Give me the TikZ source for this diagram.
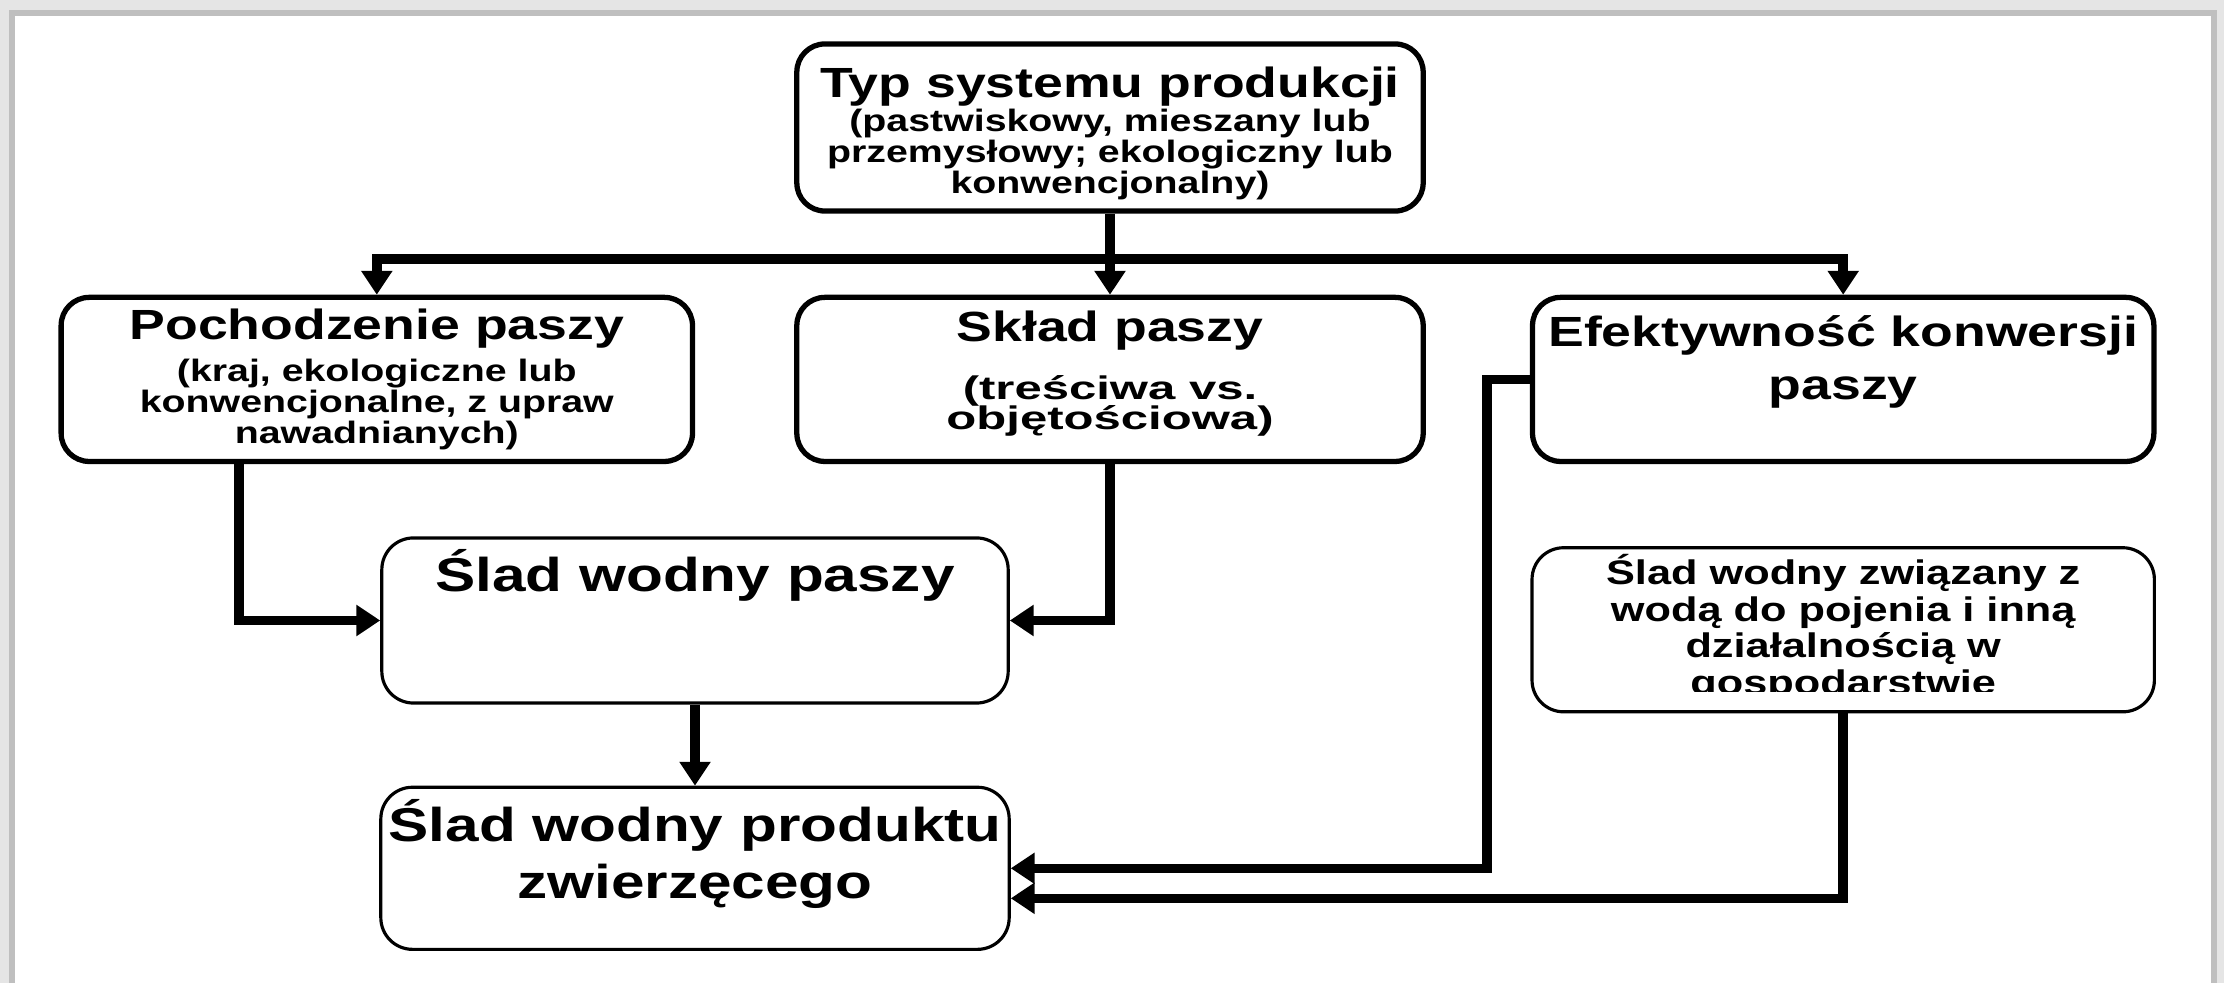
\documentclass[tikz,border=0pt]{standalone}
\usepackage{fontspec}
\setmainfont{Liberation Sans}[FakeStretch=1.27]
\newfontfamily\widefam{Liberation Sans}[FakeStretch=1.5]
\usetikzlibrary{arrows.meta, positioning}

\newcommand{\hdfont}{\fontsize{12pt}{15pt}\selectfont\bfseries}
\newcommand{\sbfont}{\fontsize{8.8pt}{8.9pt}\selectfont\bfseries\lineskiplimit=-\maxdimen}
\newcommand{\mdfont}{\widefam\fontsize{9.3pt}{8.6pt}\selectfont\bfseries\lineskiplimit=-\maxdimen}
\newcommand{\sdfont}{\fontsize{13.5pt}{16.2pt}\selectfont\bfseries}
\newcommand{\zwfont}{\fontsize{9.7pt}{10.5pt}\selectfont\bfseries\lineskiplimit=-\maxdimen}

\begin{document}
\begin{tikzpicture}[x=0.01cm, y=-0.01cm,
        topbox/.style={draw, rectangle, rounded corners=8pt, line width=1.5pt, align=center, inner sep=0pt, minimum height=1.64cm},
        lowbox/.style={draw, rectangle, rounded corners=9pt, line width=0.9pt, align=center, inner sep=0pt, minimum height=1.64cm},
        conn/.style={line width=2.7pt},
        >={Triangle[width=8.5pt,length=6.8pt]}
    ]
        % Slide frame
        \fill[black!10] (0,0) rectangle (2224,983);
        \fill[black!25] (9,10) rectangle (2217,983);
        \fill[white] (15,16) rectangle (2211,983);

        % Production system
        \node[topbox, minimum width=6.26cm, minimum height=1.67cm, font=\sbfont] (typ) at (1110,127.5)
            {\mbox{}\\[3.3pt]{\hdfont Typ systemu produkcji}\\[0.7pt] (pastwiskowy, mieszany lub\\ przemysłowy; ekologiczny lub\\ konwencjonalny)};

        % Feed row
        \node[topbox, minimum width=6.26cm, font=\mdfont, below=0.81cm of typ] (sklad)
            {{\rmfamily\hdfont Skład paszy}\\[7.9pt] (treściwa vs.\\ objętościowa)\\[-3.4pt]\mbox{}};
        \node[topbox, minimum width=6.31cm, font=\sbfont, left=0.99cm of sklad] (poch)
            {{\hdfont Pochodzenie paszy}\\[3pt] (kraj, ekologiczne lub\\ konwencjonalne, z upraw\\ nawadnianych)};
        \node[topbox, minimum width=6.21cm, font=\hdfont, right=1.04cm of sklad] (efek)
            {Efektywność konwersji\\ paszy\\[-2.5pt]\mbox{}};

        % Water footprints
        \node[lowbox, minimum width=6.26cm, minimum height=1.65cm, font=\sdfont] (paszy) at (695,620.5)
            {Ślad wodny paszy\\[12pt]\mbox{}};
        \node[lowbox, minimum width=6.28cm, minimum height=1.62cm, font=\sdfont, below=0.81cm of paszy] (prod)
            {Ślad wodny produktu\\ zwierzęcego\\[-5pt]\mbox{}};
        \node[lowbox, minimum width=6.22cm, below=0.82cm of efek] (zw) {};
        \begin{scope}
            \clip (1530,540) rectangle (2148,692);
            \node[font=\zwfont, align=center, inner sep=0pt, anchor=north] (zwtxt) at ([yshift=-0.07cm]zw.north)
                {Ślad wodny związany z\\ wodą do pojenia i inną\\ działalnością w\\ gospodarstwie};
        \end{scope}

        % Connectors
        \coordinate (split) at (1110,259);
        \draw[conn] (typ.south) -- (split);
        \draw[conn, ->] (split) -| (poch.north);
        \draw[conn, ->] (split) -- (sklad.north);
        \draw[conn, ->] (split) -| (efek.north);
        \draw[conn, ->] ([xshift=-1.375cm]poch.south) |- (paszy.west);
        \draw[conn, ->] (sklad.south) |- (paszy.east);
        \draw[conn, ->] (paszy.south) -- (prod.north);
        \draw[conn, ->] (efek.west) -- ++(-43,0) |- (prod.east);
        \draw[conn, ->] (zw.south) |- ([yshift=-0.3cm]prod.east);

    \end{tikzpicture}
\end{document}
